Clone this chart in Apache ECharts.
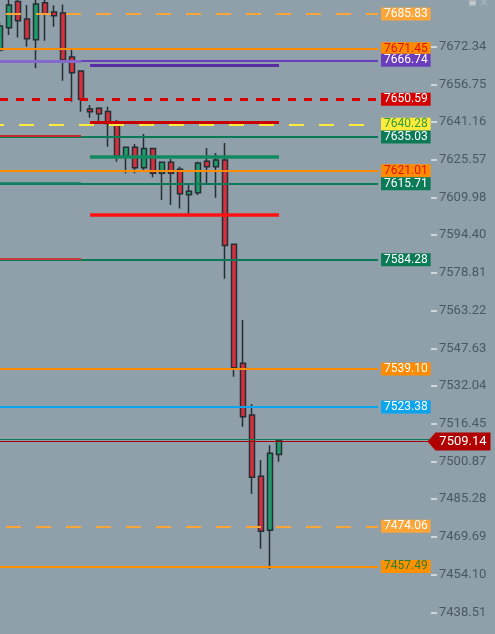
<!DOCTYPE html>
<html>
<head>
<meta charset="utf-8">
<script src="https://cdn.jsdelivr.net/npm/echarts@6/dist/echarts.min.js"></script>
<style>
html,body{margin:0;padding:0;background:#8fa0aa;}
#c{width:495px;height:634px;}
</style>
</head>
<body>
<div id="c"></div>
<script>
// ---- data ----
const categories = ['1','2','3','4','5','6','7','8','9','10','11','12','13','14','15','16','17','18','19','20',
  '21','22','23','24','25','26','27','28','29','30','31','32','33','34','35','36','37','38','39','40',
  '41','42','43','44','45','46','47','48','49','50','51','52','53','54','55','56'];
const opens  = [7671.0, 7680.2, 7691.0, 7683.8, 7675.24, 7690.5, 7686.7, 7686.3, 7668.1, 7662.3, 7646.6, 7646.9, 7645.6, 7641.1, 7627.15, 7630.75, 7622.3, 7630.3, 7620.0, 7624.55, 7621.65, 7611.15, 7612.0, 7625.0, 7622.7, 7625.5, 7590.65, 7541.45, 7520.1, 7494.75, 7472.4, 7503.8];
const closes = [7680.9, 7689.6, 7683.1, 7675.65, 7690.0, 7685.86, 7685.16, 7666.85, 7661.6, 7650.6, 7645.5, 7644.6, 7640.6, 7627.3, 7630.75, 7622.3, 7630.3, 7620.0, 7624.55, 7620.0, 7611.6, 7612.55, 7624.3, 7622.7, 7625.5, 7590.2, 7539.6, 7519.4, 7494.3, 7472.0, 7504.25, 7509.7];
const lows   = [7670.15, 7677.2, 7676.1, 7672.3, 7663.4, 7674.8, 7680.6, 7658.3, 7649.6, 7645.5, 7643.0, 7641.3, 7631.0, 7624.8, 7620.0, 7620.0, 7620.7, 7618.35, 7608.95, 7606.9, 7605.5, 7602.1, 7611.0, 7615.2, 7609.9, 7576.4, 7535.9, 7515.2, 7487.4, 7464.8, 7456.4, 7500.8];
const highs  = [7682.5, 7692.0, 7693.0, 7689.6, 7692.0, 7692.0, 7689.5, 7689.8, 7671.8, 7662.5, 7648.2, 7647.3, 7647.5, 7642.0, 7630.9, 7632.1, 7636.25, 7630.5, 7624.7, 7625.9, 7622.7, 7615.2, 7624.8, 7630.5, 7628.4, 7632.5, 7590.8, 7559.35, 7524.6, 7501.5, 7507.6, 7509.8];

const tickLabels = ['7438.51','7454.10','7469.69','7485.28','7500.87','7516.45','7532.04','7547.63','7563.22','7578.81','7594.40','7609.98','7625.57','7641.16','7656.75','7672.34'];
const axisMin = 7429.54;
const axisMax = 7687.93;

const levelValues = [7685.83, 7671.45, 7666.74, 7650.59, 7640.28, 7635.03, 7621.01, 7615.71, 7584.28, 7539.10, 7523.38, 7474.06, 7457.49];
const leftZoneValues = [7666.52, 7635.43, 7615.91, 7584.78];
const midZoneValues = [7664.86, 7641.30, 7626.83, 7602.77];
const askPrice = 7510.06;
const bidPrice = 7509.14;
const levelEndIdx = 42;
const priceLineEndIdx = 48;
const priceTagIdx = 51;
const leftZoneRange = [0, 9];
const midZoneRange = [10, 31];

// ---- styles ----
const levelStyles = [
  {c:'#fca63a', w:2, dash:[15,15], off:24, bg:'#fca63a', tc:'#ffffff'},
  {c:'#ff8c00', w:2, bg:'#ff8c00', tc:'#e01010'},
  {c:'#6a3dbd', w:2, bg:'#6a3dbd', tc:'#ffffff'},
  {c:'#d80000', w:3, dash:[8,8], off:0, bg:'#d50000', tc:'#ffffff'},
  {c:'#ffeb3b', w:2, dash:[15,15], off:11, bg:'#ffeb3b', tc:'#2e9b3a'},
  {c:'#0b7a56', w:2, bg:'#0b7a56', tc:'#ffffff'},
  {c:'#ff8c00', w:2, bg:'#ff8c00', tc:'#e01010'},
  {c:'#0b7a56', w:2, bg:'#0b7a56', tc:'#ffffff'},
  {c:'#0b7a56', w:2, bg:'#0b7a56', tc:'#ffffff'},
  {c:'#ff8c00', w:2, bg:'#ff8c00', tc:'#ffffff'},
  {c:'#0aa4ef', w:2, bg:'#0aa4ef', tc:'#ffffff'},
  {c:'#fca63a', w:2, dash:[15,15], off:24, bg:'#fca63a', tc:'#ffffff'},
  {c:'#ff9000', w:2, bg:'#ff9000', tc:'#2e7d32'}
];
const leftZoneStyles = [
  {c:'#8468cc', w:3}, {c:'#c62828', w:2}, {c:'#108060', w:2.5}, {c:'#c83a3a', w:2}
];
const midZoneStyles = [
  {c:'#5a2ea3', w:3}, {c:'#c80000', w:3}, {c:'#128a5f', w:3.5}, {c:'#ff1212', w:3.5}
];

const candleData = opens.map((o, i) => [o, closes[i], lows[i], highs[i]]);

const markData = [];
levelValues.forEach((v, i) => {
  const s = levelStyles[i];
  markData.push([
    {coord:[categories[0], v],
     lineStyle:{color:s.c, width:s.w, type:s.dash || 'solid', dashOffset:s.off || 0},
     label:{show:true, position:'end', distance:3, formatter:v.toFixed(2),
       color:s.tc, backgroundColor:s.bg, fontSize:12, fontFamily:'Roboto',
       padding:[1,3,0,3], lineHeight:12}},
    {coord:[categories[levelEndIdx], v]}
  ]);
});
leftZoneValues.forEach((v, i) => {
  const s = leftZoneStyles[i];
  markData.push([
    {coord:[categories[leftZoneRange[0]], v], lineStyle:{color:s.c, width:s.w, type:'solid'}, label:{show:false}},
    {coord:[categories[leftZoneRange[1]], v]}
  ]);
});
midZoneValues.forEach((v, i) => {
  const s = midZoneStyles[i];
  markData.push([
    {coord:[categories[midZoneRange[0]], v], lineStyle:{color:s.c, width:s.w, type:'solid'}, label:{show:false}},
    {coord:[categories[midZoneRange[1]], v]}
  ]);
});
markData.push([
  {coord:[categories[0], askPrice], lineStyle:{color:'#0b7a56', width:1, type:'solid'}, label:{show:false}},
  {coord:[categories[priceLineEndIdx], askPrice]}
]);
markData.push([
  {coord:[categories[0], bidPrice], lineStyle:{color:'#a00000', width:1, type:'solid'}, label:{show:false}},
  {coord:[categories[priceLineEndIdx], bidPrice]}
]);

const chart = echarts.init(document.getElementById('c'), null, {renderer:'canvas'});
chart.setOption({
  backgroundColor:'#8fa0aa',
  animation:false,
  grid:{left:0, right:0, top:9, bottom:0, containLabel:false},
  xAxis:{type:'category', data:categories, boundaryGap:false, show:false},
  yAxis:{
    type:'value', position:'right', offset:-64, min:axisMin, max:axisMax, scale:true,
    axisLine:{show:false},
    axisTick:{show:true, length:6, lineStyle:{color:'#e3e8eb', width:1.5},
      customValues: tickLabels.map(Number)},
    axisLabel:{show:true, margin:8, color:'#4b5864', fontSize:13, fontFamily:'Roboto',
      customValues: tickLabels.map(Number),
      formatter:(v)=>Number(v).toFixed(2)},
    splitLine:{show:false}
  },
  graphic:[
    {type:'rect', shape:{x:469, y:0, width:7, height:6}, style:{fill:'#aeb9bf'}},
    {type:'rect', shape:{x:470, y:2, width:5, height:2}, style:{fill:'#c9d1d5'}},
    {type:'text', x:479, y:-3, style:{text:'×', fill:'#aeb9bf', font:'12px "DejaVu Sans"'}}
  ],
  series:[
    {
      type:'candlestick', z:2, barWidth:6, clip:true,
      data:candleData,
      itemStyle:{color:'#1f9b6b', color0:'#d4303e', borderColor:'#272d33', borderColor0:'#272d33', borderWidth:1.5}
    },
    {
      type:'line', z:3, data:[], silent:true,
      markLine:{silent:true, symbol:['none','none'], animation:false, data:markData}
    },
    {
      type:'line', z:10, data:[], silent:true,
      markPoint:{
        silent:true, animation:false,
        data:[{
          coord:[categories[priceTagIdx], bidPrice],
          symbol:'path://M0,9 L8,0 L63,0 L63,18 L8,18 Z',
          symbolSize:[63,18],
          itemStyle:{color:'#b00000'},
          label:{show:true, position:'inside', offset:[4,0], formatter:bidPrice.toFixed(2),
            color:'#ffffff', fontSize:13, fontFamily:'Roboto'}
        }]
      }
    }
  ]
});
</script>
</body>
</html>
